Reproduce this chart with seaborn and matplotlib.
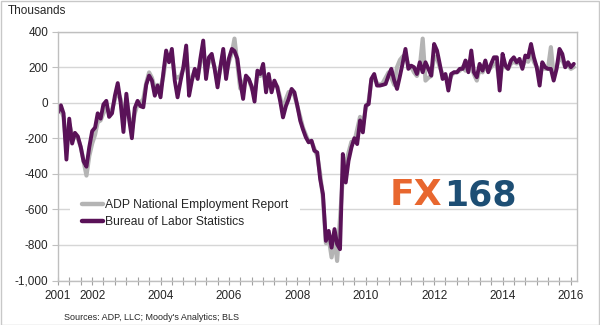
import matplotlib
matplotlib.use("Agg")
import matplotlib.pyplot as plt
import matplotlib.dates as mdates
from matplotlib.patches import Rectangle
from matplotlib.lines import Line2D
from matplotlib.ticker import FuncFormatter
import pandas as pd
import seaborn as sns

# Monthly change in private payrolls (thousands), Jan 2001 - Feb 2016
adp = [
    -30, -40, -80, -250, -120, -180, -190, -200, -250, -330, -410, -300,   # 2001
    -230, -180, -110, -100, -60, -30, -50, -40, 20, 60, 20, -100,          # 2002
    20, -80, -150, -60, -10, 0, 20, 110, 170, 140, 80, 100,                # 2003
    80, 150, 260, 240, 270, 150, 140, 150, 190, 280, 100, 140,             # 2004
    180, 150, 220, 310, 170, 230, 250, 200, 120, 190, 280, 160,            # 2005
    230, 280, 360, 220, 80, 110, 140, 130, 80, 50, 160, 150,               # 2006
    190, 90, 140, 80, 110, 90, 30, -40, 20, 60, 60, 40,                    # 2007
    -20, -80, -140, -180, -220, -220, -260, -300, -400, -540, -790, -760,  # 2008
    -870, -760, -890, -650, -420, -340, -280, -220, -220, -150, -80, -130, # 2009
    -30, 10, 120, 140, 110, 100, 110, 140, 170, 140, 100, 200,             # 2010
    240, 260, 270, 210, 200, 170, 150, 200, 360, 124, 140, 150,            # 2011
    260, 250, 200, 160, 150, 110, 150, 170, 170, 180, 200, 180,            # 2012
    230, 200, 160, 124, 190, 170, 200, 180, 200, 220, 210, 110,            # 2013
    230, 200, 190, 220, 230, 220, 230, 200, 240, 230, 280, 230,            # 2014
    200, 150, 200, 190, 190, 312, 152, 200, 250, 240, 200, 210,            # 2015
    190, 200,                                                              # 2016
]
bls = [
    -55, -15, -60, -320, -90, -230, -170, -190, -250, -330, -360, -250,    # 2001
    -160, -140, -60, -90, -10, 10, -80, -60, 40, 110, 0, -165,             # 2002
    50, -100, -200, -30, 10, -20, -26, 100, 152, 124, 39, 96,              # 2003
    30, 171, 293, 227, 302, 124, 30, 120, 200, 321, 39, 124,               # 2004
    190, 133, 246, 349, 133, 255, 274, 190, 86, 200, 302, 133,             # 2005
    250, 302, 290, 246, 120, 21, 152, 133, 90, 6, 180, 161,                # 2006
    218, 58, 161, 58, 124, 86, 11, -83, -20, 21, 77, 58,                   # 2007
    -17, -101, -150, -195, -223, -214, -270, -280, -430, -515, -777, -721, # 2008
    -815, -711, -796, -824, -289, -449, -327, -252, -200, -233, -100, -167,# 2009
    -17, -8, 133, 161, 96, 96, 100, 105, 152, 190, 124, 77,                # 2010
    150, 227, 302, 190, 208, 199, 161, 227, 171, 227, 190, 152,            # 2011
    330, 293, 218, 133, 161, 68, 161, 171, 171, 190, 190, 237,             # 2012
    171, 293, 171, 143, 218, 180, 237, 171, 218, 255, 255, 68,             # 2013
    274, 208, 190, 237, 255, 227, 246, 190, 265, 255, 330, 255,            # 2014
    199, 96, 227, 199, 190, 190, 124, 190, 302, 274, 199, 227,             # 2015
    199, 218,                                                              # 2016
]
series_names = ["ADP National Employment Report", "Bureau of Labor Statistics"]
tick_years = [2001, 2002, 2004, 2006, 2008, 2010, 2012, 2014, 2016]
y_ticks = [-1000, -800, -600, -400, -200, 0, 200, 400]

months = pd.date_range("2001-01-01", periods=len(bls), freq="MS")
df = pd.DataFrame({"date": months, "adp": adp, "bls": bls})

ADP_COLOR = "#B4B4B4"
BLS_COLOR = "#5A1258"
TEXT = "#262626"
FRAME = "#BFBFBF"

sns.set_theme(style="white")
plt.rcParams["font.family"] = ["Liberation Sans", "DejaVu Sans"]

fig = plt.figure(figsize=(6, 3.25), dpi=100)
ax = fig.add_axes([58 / 600, 1 - 280.5 / 325, (577 - 58) / 600, (280.5 - 31.5) / 325])

sns.lineplot(data=df, x="date", y="adp", ax=ax, color=ADP_COLOR, linewidth=3.0)
sns.lineplot(data=df, x="date", y="bls", ax=ax, color=BLS_COLOR, linewidth=2.8)

ax.set_xlim(pd.Timestamp("2001-01-01"), pd.Timestamp("2016-03-06"))
ax.set_ylim(-1000, 400)
ax.set_xlabel("")
ax.set_ylabel("")

ax.set_yticks(y_ticks)
ax.yaxis.set_major_formatter(FuncFormatter(lambda v, _: f"{int(v):,}"))
ax.set_xticks([pd.Timestamp(f"{y}-01-01") for y in tick_years])
ax.set_xticklabels([str(y) for y in tick_years])
ax.xaxis.set_minor_locator(mdates.MonthLocator(bymonth=(1, 5, 9)))

ax.yaxis.grid(True, color="#D6D6D6", linewidth=1)
ax.xaxis.grid(False)
ax.set_axisbelow(True)
for s in ax.spines.values():
    s.set_visible(True)
    s.set_color(FRAME)
    s.set_linewidth(1)

ax.tick_params(axis="x", which="both", direction="inout", length=6, width=0.8,
               color="#A0A0A0", bottom=True, labelsize=8.5, labelcolor=TEXT, pad=4)
ax.tick_params(axis="y", which="major", direction="out", length=4, width=0.8,
               color="#C0C0C0", left=True, labelsize=8.5, labelcolor=TEXT, pad=3)

handles = [Line2D([], [], color=ADP_COLOR, linewidth=3.2),
           Line2D([], [], color=BLS_COLOR, linewidth=3.2)]
leg = ax.legend(handles, series_names, loc="upper left", bbox_to_anchor=(0.023, 0.376),
                fontsize=8.7, frameon=True, facecolor="white", edgecolor="none",
                framealpha=1, handlelength=1.75, handletextpad=0.15,
                labelspacing=0.45, borderpad=1.0, borderaxespad=0)
for t in leg.get_texts():
    t.set_color(TEXT)

fig.text(8 / 600, 1 - 11 / 325, "Thousands", ha="left", va="center",
         fontsize=8.5, color=TEXT)
fig.text(64 / 600, 1 - 317 / 325, "Sources: ADP, LLC; Moody's Analytics; BLS",
         ha="left", va="center", fontsize=6.5, color=TEXT)

fig.text(390 / 600, 1 - 195 / 325, "FX", ha="left", va="center", fontsize=26,
         fontweight="bold", color="#E8672F", family="DejaVu Sans")
fig.text(444 / 600, 1 - 195 / 325, "168", ha="left", va="center", fontsize=25,
         fontweight="bold", color="#1D4E74", family="DejaVu Sans")

fig.patches.append(Rectangle((0.5 / 600, 0.5 / 325), 598 / 600, 323.5 / 325,
                             transform=fig.transFigure, fill=False,
                             edgecolor="#C8C8C8", linewidth=1))

fig.savefig("out.png", dpi=100)
